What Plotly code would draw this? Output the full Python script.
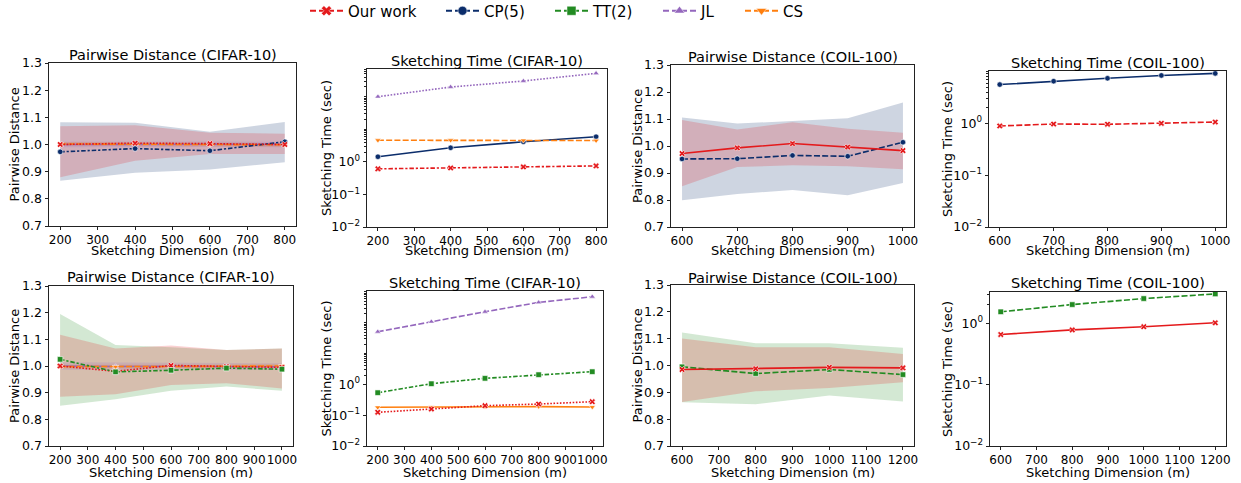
import plotly.graph_objects as go

# ---------------- data ----------------
series_names = ["Our work", "CP(5)", "TT(2)", "JL", "CS"]

dims_cifar_top = [200, 400, 600, 800]
dims_coil_top = [600, 700, 800, 900, 1000]
dims_cifar_bot = [200, 400, 600, 800, 1000]
dims_coil_bot = [600, 800, 1000, 1200]

# Panel 1: Pairwise Distance (CIFAR-10), top row
p1_ours = [1.000, 1.005, 1.003, 1.000]
p1_ours_lo = [0.879, 0.940, 0.965, 0.965]
p1_ours_hi = [1.067, 1.071, 1.043, 1.040]
p1_cp = [0.973, 0.985, 0.977, 1.010]
p1_cp_lo = [0.867, 0.896, 0.908, 0.935]
p1_cp_hi = [1.082, 1.080, 1.047, 1.083]
p1_jl = [1.000, 1.001, 1.001, 1.000]
p1_jl_lo = [0.990, 0.991, 0.991, 0.990]
p1_jl_hi = [1.010, 1.011, 1.011, 1.010]
p1_cs = [1.002, 1.001, 1.000, 0.999]
p1_cs_lo = [0.995, 0.994, 0.993, 0.992]
p1_cs_hi = [1.009, 1.008, 1.007, 1.006]

# Panel 2: Sketching Time (CIFAR-10), top row
p2_jl = [100, 198, 303, 522]
p2_cs = [4.6, 4.6, 4.55, 4.5]
p2_cp = [1.43, 2.7, 4.12, 5.88]
p2_ours = [0.61, 0.65, 0.70, 0.75]

# Panel 3: Pairwise Distance (COIL-100), top row
p3_ours = [0.972, 0.993, 1.009, 0.996, 0.983]
p3_ours_lo = [0.851, 0.922, 0.929, 0.925, 0.914]
p3_ours_hi = [1.096, 1.061, 1.088, 1.064, 1.049]
p3_cp = [0.952, 0.953, 0.965, 0.962, 1.014]
p3_cp_lo = [0.799, 0.822, 0.837, 0.818, 0.863]
p3_cp_hi = [1.106, 1.083, 1.093, 1.103, 1.161]

# Panel 4: Sketching Time (COIL-100), top row
p4_cp = [5.6, 6.5, 7.4, 8.4, 9.2]
p4_ours = [0.89, 0.97, 0.96, 1.00, 1.06]

# Panel 5: Pairwise Distance (CIFAR-10), bottom row
p5_tt = [1.025, 0.978, 0.984, 0.992, 0.988]
p5_tt_lo = [0.851, 0.875, 0.907, 0.923, 0.907]
p5_tt_hi = [1.195, 1.079, 1.070, 1.060, 1.066]
p5_ours = [1.000, 0.980, 1.002, 0.998, 0.995]
p5_ours_lo = [0.885, 0.894, 0.929, 0.935, 0.916]
p5_ours_hi = [1.117, 1.066, 1.077, 1.060, 1.066]
p5_jl = [1.000, 0.998, 0.999, 0.998, 0.997]
p5_jl_lo = [0.986, 0.985, 0.986, 0.986, 0.985]
p5_jl_hi = [1.014, 1.012, 1.012, 1.011, 1.010]
p5_cs = [0.998, 0.997, 0.998, 0.999, 1.000]
p5_cs_lo = [0.991, 0.990, 0.991, 0.992, 0.993]
p5_cs_hi = [1.005, 1.004, 1.005, 1.006, 1.007]

# Panel 6: Sketching Time (CIFAR-10), bottom row
p6_jl = [51, 108, 227, 457, 697]
p6_tt = [0.537, 1.05, 1.57, 2.06, 2.58]
p6_ours = [0.124, 0.158, 0.203, 0.230, 0.274]
p6_cs = [0.180, 0.184, 0.190, 0.190, 0.184]

# Panel 7: Pairwise Distance (COIL-100), bottom row
p7_ours = [0.985, 0.988, 0.993, 0.991]
p7_ours_lo = [0.864, 0.904, 0.916, 0.938]
p7_ours_hi = [1.101, 1.068, 1.068, 1.043]
p7_tt = [0.995, 0.970, 0.985, 0.966]
p7_tt_lo = [0.863, 0.856, 0.888, 0.866]
p7_tt_hi = [1.123, 1.083, 1.083, 1.066]

# Panel 8: Sketching Time (COIL-100), bottom row
p8_tt = [1.54, 2.02, 2.53, 3.01]
p8_ours = [0.656, 0.78, 0.88, 1.02]

# ---------------- styling ----------------
W, H = 1241, 483
FONT = "DejaVu Sans"
COL = {"Our work": "#e41a1c", "CP(5)": "#0b2d6b", "TT(2)": "#228b22",
       "JL": "#9467bd", "CS": "#ff7f0e"}
SYM = {"Our work": "x", "CP(5)": "circle", "TT(2)": "square",
       "JL": "triangle-up", "CS": "triangle-down"}
DASH = {"solid": "solid", "dash": "6px,2.25px", "dot": "1.6px,1.6px",
        "dashdot": "4.5px,1.9px,2.2px,1.9px"}


def rgba(h, a):
    h = h.lstrip("#")
    return "rgba(%d,%d,%d,%.2f)" % (int(h[0:2], 16), int(h[2:4], 16), int(h[4:6], 16), a)


def px_x(v):
    return v / W


def px_y(v):
    return 1 - v / H


# axis boxes in pixels: (left, right, top, bottom)
boxes = [
    (49, 296, 63, 226), (367, 607, 69, 227), (671, 914, 65, 227), (989, 1226, 71, 227),
    (49, 293, 286, 446), (367, 603, 291, 446), (671, 914, 285, 446), (990, 1226, 292, 446),
]
titles = ["Pairwise Distance (CIFAR-10)", "Sketching Time (CIFAR-10)",
          "Pairwise Distance (COIL-100)", "Sketching Time (COIL-100)",
          "Pairwise Distance (CIFAR-10)", "Sketching Time (CIFAR-10)",
          "Pairwise Distance (COIL-100)", "Sketching Time (COIL-100)"]
title_y = [55, 61, 57, 63, 277, 283, 278, 283]
ylabel_x = [14, 326, 637, 947, 14, 326, 637, 947]
xranges = [[170, 830], [170, 830], [580, 1020], [580, 1020],
           [160, 1040], [160, 1040], [570, 1230], [570, 1230]]
logtop = {2: 2.85, 4: 1.01, 6: 3.03, 8: 0.51}

fig = go.Figure()


def band(i, x, lo, hi, name):
    fig.add_trace(go.Scatter(
        x=list(x) + list(x)[::-1], y=list(hi) + list(lo)[::-1],
        fill="toself", fillcolor=rgba(COL[name], 0.2), line=dict(width=0),
        mode="lines", hoverinfo="skip", showlegend=False,
        xaxis="x%d" % i, yaxis="y%d" % i))


lines_queue = []


def line(i, x, y, name, dash):
    lines_queue.append(dict(
        x=x, y=y, mode="lines+markers", showlegend=False,
        line=dict(color=COL[name], width=1.6, dash=DASH[dash]),
        marker=dict(symbol=SYM[name], size=5.5, color=COL[name],
                    line=dict(color="white", width=0.6)),
        xaxis="x%d" % i, yaxis="y%d" % i))


# Panel 1
band(1, dims_cifar_top, p1_cp_lo, p1_cp_hi, "CP(5)")
band(1, dims_cifar_top, p1_ours_lo, p1_ours_hi, "Our work")
band(1, dims_cifar_top, p1_jl_lo, p1_jl_hi, "JL")
band(1, dims_cifar_top, p1_cs_lo, p1_cs_hi, "CS")
line(1, dims_cifar_top, p1_jl, "JL", "solid")
line(1, dims_cifar_top, p1_cs, "CS", "dash")
line(1, dims_cifar_top, p1_cp, "CP(5)", "dashdot")
line(1, dims_cifar_top, p1_ours, "Our work", "dot")
# Panel 2
line(2, dims_cifar_top, p2_cp, "CP(5)", "solid")
line(2, dims_cifar_top, p2_cs, "CS", "dash")
line(2, dims_cifar_top, p2_jl, "JL", "dot")
line(2, dims_cifar_top, p2_ours, "Our work", "dashdot")
# Panel 3
band(3, dims_coil_top, p3_cp_lo, p3_cp_hi, "CP(5)")
band(3, dims_coil_top, p3_ours_lo, p3_ours_hi, "Our work")
line(3, dims_coil_top, p3_cp, "CP(5)", "dash")
line(3, dims_coil_top, p3_ours, "Our work", "solid")
# Panel 4
line(4, dims_coil_top, p4_cp, "CP(5)", "solid")
line(4, dims_coil_top, p4_ours, "Our work", "dash")
# Panel 5
band(5, dims_cifar_bot, p5_tt_lo, p5_tt_hi, "TT(2)")
band(5, dims_cifar_bot, p5_ours_lo, p5_ours_hi, "Our work")
band(5, dims_cifar_bot, p5_jl_lo, p5_jl_hi, "JL")
band(5, dims_cifar_bot, p5_cs_lo, p5_cs_hi, "CS")
line(5, dims_cifar_bot, p5_jl, "JL", "solid")
line(5, dims_cifar_bot, p5_cs, "CS", "dash")
line(5, dims_cifar_bot, p5_ours, "Our work", "dot")
line(5, dims_cifar_bot, p5_tt, "TT(2)", "dashdot")
# Panel 6
line(6, dims_cifar_bot, p6_cs, "CS", "solid")
line(6, dims_cifar_bot, p6_jl, "JL", "dash")
line(6, dims_cifar_bot, p6_ours, "Our work", "dot")
line(6, dims_cifar_bot, p6_tt, "TT(2)", "dashdot")
# Panel 7
band(7, dims_coil_bot, p7_tt_lo, p7_tt_hi, "TT(2)")
band(7, dims_coil_bot, p7_ours_lo, p7_ours_hi, "Our work")
line(7, dims_coil_bot, p7_tt, "TT(2)", "dash")
line(7, dims_coil_bot, p7_ours, "Our work", "solid")
# Panel 8
line(8, dims_coil_bot, p8_tt, "TT(2)", "dash")
line(8, dims_coil_bot, p8_ours, "Our work", "solid")

for kw in lines_queue:
    fig.add_trace(go.Scatter(**kw))

# legend: one legend per entry for exact placement
legend_x = [305, 441, 550, 658, 740]
for k, name in enumerate(series_names):
    lg = "legend" if k == 0 else "legend%d" % (k + 1)
    fig.add_trace(go.Scatter(
        x=[None], y=[None], mode="lines+markers", name=name, legend=lg,
        line=dict(color=COL[name], width=2, dash="6px,3px"),
        marker=dict(symbol=SYM[name], size=9, color=COL[name],
                    line=dict(color="white", width=0.5)),
        xaxis="x1", yaxis="y1"))

layout = dict(
    width=W, height=H, margin=dict(l=0, r=0, t=0, b=0, autoexpand=False),
    paper_bgcolor="white", plot_bgcolor="white",
    font=dict(family=FONT, size=12, color="black"),
    showlegend=True,
)
for k in range(5):
    lg = "legend" if k == 0 else "legend%d" % (k + 1)
    layout[lg] = dict(x=px_x(legend_x[k]), y=px_y(11), xanchor="left", yanchor="middle",
                      orientation="h", bgcolor="rgba(0,0,0,0)",
                      font=dict(family=FONT, size=15, color="black"),
                      itemwidth=33, tracegroupgap=0)

annotations = []
for i in range(1, 9):
    l, r, t, b = boxes[i - 1]
    is_time = i % 2 == 0
    xa = dict(domain=[px_x(l), px_x(r)], range=xranges[i - 1], anchor="y%d" % i,
              showline=True, linecolor="#222", linewidth=1, mirror=True,
              ticks="outside", ticklen=3, tickcolor="#222", tickwidth=1,
              dtick=100, tick0=0, tickangle=0, showgrid=False, zeroline=False,
              tickfont=dict(family=FONT, size=12, color="black"))
    ya = dict(domain=[px_y(b), px_y(t)], anchor="x%d" % i,
              showline=True, linecolor="#222", linewidth=1, mirror=True,
              ticks="outside", ticklen=3.5, tickcolor="#222", tickwidth=1,
              showgrid=False, zeroline=False,
              tickfont=dict(family=FONT, size=12.5, color="black"))
    if is_time:
        top = logtop[i]
        ya.update(type="log", range=[-2, top],
                  tickvals=[0.01, 0.1, 1],
                  ticktext=["10<sup>\u22122</sup>", "10<sup>\u22121</sup>", "10<sup>0</sup>"])
        minors = []
        for dec in [1, 10, 100]:
            for m in range(2, 11):
                v = m * dec
                if v < 10 ** top:
                    minors.append(v)
        ya["minor"] = dict(tickvals=minors, ticks="outside", ticklen=2.5,
                           tickcolor="#222", tickwidth=0.8, showgrid=False)
    else:
        ya.update(range=[0.7, 1.3], dtick=0.1, tick0=0.7, tickformat=".1f")
    layout["xaxis%d" % i] = xa
    layout["yaxis%d" % i] = ya

    annotations.append(dict(text=titles[i - 1], x=px_x((l + r) / 2), y=px_y(title_y[i - 1]),
                            xref="paper", yref="paper", showarrow=False,
                            xanchor="center", yanchor="middle",
                            font=dict(family=FONT, size=14.5, color="black")))
    annotations.append(dict(text="Sketching Dimension (m)", x=px_x((l + r) / 2),
                            y=px_y(250 if i <= 4 else 472),
                            xref="paper", yref="paper", showarrow=False,
                            xanchor="center", yanchor="middle",
                            font=dict(family=FONT, size=13, color="black")))
    annotations.append(dict(text="Sketching Time (sec)" if is_time else "Pairwise Distance",
                            x=px_x(ylabel_x[i - 1]), y=px_y((t + b) / 2),
                            xref="paper", yref="paper", showarrow=False, textangle=-90,
                            xanchor="center", yanchor="middle",
                            font=dict(family=FONT, size=13, color="black")))

layout["annotations"] = annotations
fig.update_layout(**layout)
fig.write_html("out.html", config={"displayModeBar": False},
               post_script="document.body.style.margin='0';document.body.style.overflow='hidden';")
